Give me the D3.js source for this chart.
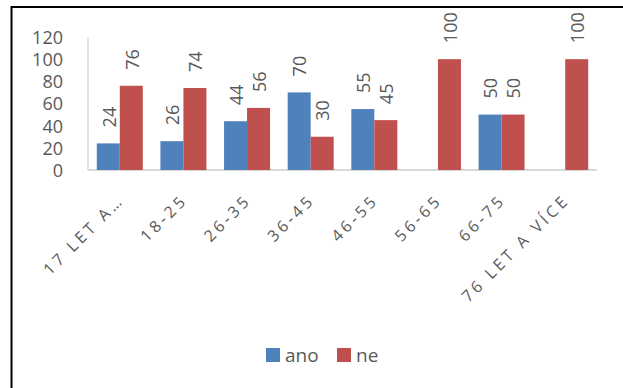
<!DOCTYPE html>
<html>
<head>
<meta charset="utf-8">
<script src="https://cdn.jsdelivr.net/npm/d3@7"></script>
<style>
  html, body { margin: 0; padding: 0; background: #fff; }
  svg { display: block; }
  text { font-family: "Open Sans", "Noto Sans", sans-serif; fill: #595959; }
</style>
</head>
<body>
<svg id="chart" width="623" height="388"></svg>
<script>
// Age groups and answers (yes / no), in percent
const categories = ["17 LET A\u2026", "18-25", "26-35", "36-45", "46-55", "56-65", "66-75", "76 LET A VÍCE"];
const ano = [24, 26, 44, 70, 55, null, 50, null];
const ne  = [76, 74, 56, 30, 45, 100, 50, 100];
const yTicks = [0, 20, 40, 60, 80, 100, 120];
const seriesNames = ["ano", "ne"];
const seriesColors = ["#4F81BD", "#C0504D"];

const svg = d3.select("#chart");

// outer frame
svg.append("rect")
  .attr("x", 11.5).attr("y", 7)
  .attr("width", 700).attr("height", 500)
  .attr("fill", "none").attr("stroke", "#000").attr("stroke-width", 2);

const plot = { left: 88, right: 597, top: 37, bottom: 170 };

const x = d3.scaleBand().domain(categories).range([plot.left, plot.right]).paddingInner(0.277).paddingOuter(0.138);
const xs = d3.scaleBand().domain(seriesNames).range([0, x.bandwidth()]);
const y = d3.scaleLinear().domain([0, 120]).range([plot.bottom, plot.top]);

// y axis labels
const yAxis = d3.axisLeft(y).tickValues(yTicks).tickSize(0).tickPadding(0);
const yg = svg.append("g").attr("transform", "translate(63,0)").call(yAxis);
yg.select(".domain").remove();
yg.selectAll("text")
  .attr("font-size", 18).attr("fill", "#595959")
  .attr("font-family", "\"Open Sans\", sans-serif")
  .attr("dy", "0.36em").attr("x", 0);

// axis lines
svg.append("line")
  .attr("x1", plot.left).attr("x2", plot.left)
  .attr("y1", plot.top).attr("y2", plot.bottom)
  .attr("stroke", "#D9D9D9").attr("stroke-width", 1.5);
svg.append("line")
  .attr("x1", plot.left).attr("x2", plot.right)
  .attr("y1", plot.bottom).attr("y2", plot.bottom)
  .attr("stroke", "#D9D9D9").attr("stroke-width", 2);

// bars
const series = [ano, ne];
series.forEach((vals, si) => {
  const rows = categories.map((c, i) => ({ c, v: vals[i] })).filter(d => d.v != null);
  const g = svg.append("g");
  g.selectAll("rect").data(rows).enter().append("rect")
    .attr("x", d => x(d.c) + xs(seriesNames[si]))
    .attr("y", d => y(d.v))
    .attr("width", xs.bandwidth())
    .attr("height", d => y(0) - y(d.v))
    .attr("fill", seriesColors[si]);
  // value labels, rotated
  g.selectAll("text").data(rows).enter().append("text")
    .attr("transform", d => `translate(${x(d.c) + xs(seriesNames[si]) + xs.bandwidth() / 2 + 1},${y(d.v) - 16}) rotate(-90)`)
    .attr("dy", "0.35em")
    .attr("font-size", 18)
    .attr("fill", "#595959")
    .text(d => d.v);
});

// category labels, rotated 45°
svg.append("g").selectAll("text").data(categories).enter().append("text")
  .attr("transform", d => `translate(${x(d) + x.bandwidth() / 2 - 3},${plot.bottom + 23}) rotate(-45)`)
  .attr("text-anchor", "end")
  .attr("dy", "0.72em")
  .attr("font-size", 16)
  .attr("letter-spacing", 3.4)
  .attr("fill", "#595959")
  .text(d => d);

// legend
const legend = svg.append("g").attr("transform", "translate(266,348)");
const items = [{ n: "ano", c: seriesColors[0], x: 0 }, { n: "ne", c: seriesColors[1], x: 71 }];
items.forEach(it => {
  legend.append("rect").attr("x", it.x).attr("y", 0).attr("width", 14).attr("height", 14).attr("fill", it.c);
  legend.append("text").attr("x", it.x + 19).attr("y", 7).attr("dy", "0.35em")
    .attr("font-size", 19).attr("fill", "#595959").text(it.n);
});
</script>
</body>
</html>
